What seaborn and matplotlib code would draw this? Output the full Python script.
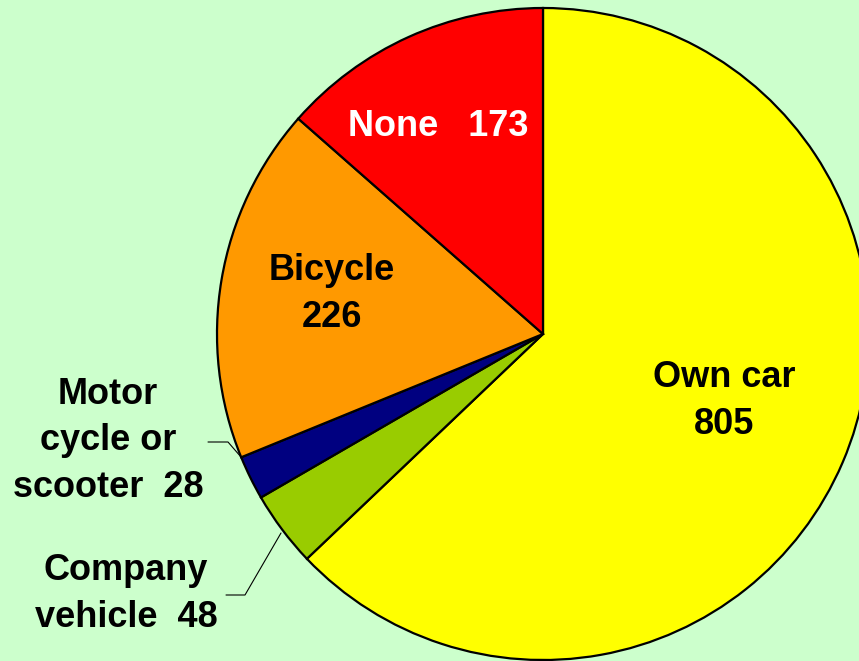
import matplotlib
matplotlib.use("Agg")
import matplotlib.pyplot as plt
import seaborn as sns

categories = ["Own car", "Company vehicle", "Motor cycle or scooter", "Bicycle", "None"]
values = [805, 48, 28, 226, 173]
colors = ["#FFFF00", "#99CC00", "#000080", "#FF9900", "#FF0000"]

sns.set_style("white")
plt.rcParams["font.family"] = ["Liberation Sans", "DejaVu Sans"]

fig = plt.figure(figsize=(8.59, 6.61), dpi=100, facecolor="#CCFFCC")
ax = fig.add_axes([0, 0, 1, 1])
ax.set_facecolor("#CCFFCC")

R = 326.0
cx, cy = 543.0, 334.0


def px(x, y):
    return (x - cx) / R, (cy - y) / R


ax.pie(values, colors=colors, startangle=90, counterclock=False, radius=1,
       wedgeprops=dict(edgecolor="black", linewidth=1.6))
ax.set_xlim(px(0, 0)[0], px(859, 0)[0])
ax.set_ylim(px(0, 661)[1], px(0, 0)[1])
ax.set_aspect("equal")
ax.axis("off")

fs = 26
kw = dict(fontsize=fs, fontweight="bold", ha="center", va="center", linespacing=1.42)
ax.text(*px(438, 127), "None   173", color="white", **kw)
ax.text(*px(332, 294), "Bicycle\n226", color="black", **kw)
ax.text(*px(724, 401), "Own car\n805", color="black", **kw)
ax.text(*px(108, 441), "Motor\ncycle or\nscooter  28", color="black", **kw)
ax.text(*px(126, 594), "Company\nvehicle  48", color="black", **kw)

# leader lines
for pts in ([(208, 442), (228, 442), (241, 457)], [(226, 595), (245, 595), (281, 533)]):
    xs, ys = zip(*[px(x, y) for x, y in pts])
    ax.plot(xs, ys, color="black", linewidth=0.8)

fig.savefig("out.png", dpi=100, facecolor=fig.get_facecolor())
